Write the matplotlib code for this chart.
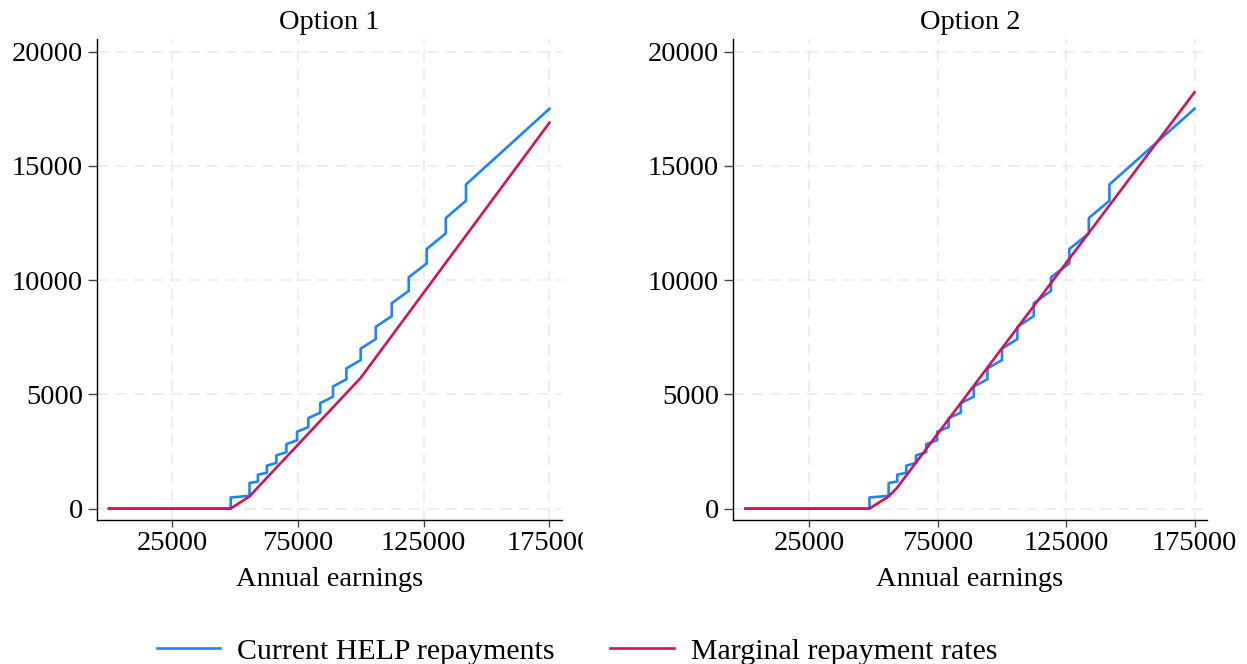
import matplotlib
matplotlib.use("Agg")
import matplotlib.pyplot as plt
from matplotlib.transforms import Bbox, TransformedBbox

# Current HELP repayment schedule (vertices of the step line)
help_earnings = [0, 48361, 48361, 55837, 55837, 59187, 59187, 62739, 62739,
                 66503, 66503, 70493, 70493, 74723, 74723, 79207, 79207,
                 83959, 83959, 88997, 88997, 94337, 94337, 99997, 99997,
                 105997, 105997, 112356, 112356, 119098, 119098, 126244,
                 126244, 133819, 133819, 141848, 141848, 175000]
help_repay = [0, 0, 484, 558, 1117, 1184, 1480, 1568, 1882,
              1995, 2328, 2467, 2820, 2989, 3363, 3564, 3960,
              4198, 4618, 4895, 5340, 5660, 6132, 6500, 7000,
              7420, 7950, 8427, 8988, 9528, 10123, 10731,
              11362, 12044, 12713, 13476, 14185, 17500]

# Marginal repayment rates, option 1 and option 2
opt1_earnings = [0, 48361, 55837, 59187, 100000, 175000]
opt1_repay = [0, 0, 530, 930, 5720, 16890]
opt2_earnings = [0, 48361, 55837, 59187, 175000]
opt2_repay = [0, 0, 525, 920, 18220]

panel_titles = ["Option 1", "Option 2"]
series_labels = ["Current HELP repayments", "Marginal repayment rates"]
x_ticks = [25000, 75000, 125000, 175000]
y_ticks = [0, 5000, 10000, 15000, 20000]

blue = "#1A85FF"
red = "#D41159"
fs = 20.5

plt.rcParams["font.family"] = ["Liberation Serif", "DejaVu Serif"]

fig = plt.figure(figsize=(12.47, 6.64), dpi=100)
ax1 = fig.add_axes([0.0775, 0.2169, 0.3732, 0.7239])
ax2 = fig.add_axes([0.5876, 0.2169, 0.3806, 0.7239])

red_data = [(opt1_earnings, opt1_repay), (opt2_earnings, opt2_repay)]

for ax, title, (rx, ry) in zip([ax1, ax2], panel_titles, red_data):
    ax.set_axisbelow(True)
    ax.grid(True, color="#eaeaea", linewidth=1.1, linestyle=(0, (7.5, 4.5)))
    l1, = ax.plot(help_earnings, help_repay, color=blue, lw=1.9, label=series_labels[0])
    l2, = ax.plot(rx, ry, color=red, lw=1.9, label=series_labels[1])

    ax.set_xlim(-4900, 180000)
    ax.set_ylim(-500, 20540)
    ax.set_xticks(x_ticks)
    ax.set_yticks(y_ticks)
    ax.set_xticklabels([str(t) for t in x_ticks])
    ax.set_yticklabels([str(t) for t in y_ticks])

    for s in ["top", "right"]:
        ax.spines[s].set_visible(False)
    for s in ["left", "bottom"]:
        ax.spines[s].set_color("black")
        ax.spines[s].set_linewidth(1.0)

    ax.tick_params(axis="y", length=6.5, width=1.0, color="#444444",
                   labelsize=fs, pad=3.4)
    ax.tick_params(axis="x", length=5, width=1.0, color="#444444",
                   labelsize=fs, pad=3)

    ax.set_title(title, fontsize=fs, y=1.036, va="center", pad=0)
    ax.set_xlabel("Annual earnings", fontsize=fs, va="center")
    ax.xaxis.set_label_coords(0.5, -0.124)

# left panel's last tick label is cut off at the panel edge
clip = TransformedBbox(Bbox([[0, 0], [582.7 / 1247, 1]]), fig.transFigure)
for lab in ax1.get_xticklabels():
    lab.set_clip_on(True)
    lab.set_clip_box(clip)

fig.legend([l1, l2], series_labels, loc="center", bbox_to_anchor=(0.4627, 0.019),
           ncol=2, frameon=False, fontsize=21.5, handlelength=2.14,
           handletextpad=0.57, columnspacing=1.84)

fig.savefig("out.png", dpi=100)
